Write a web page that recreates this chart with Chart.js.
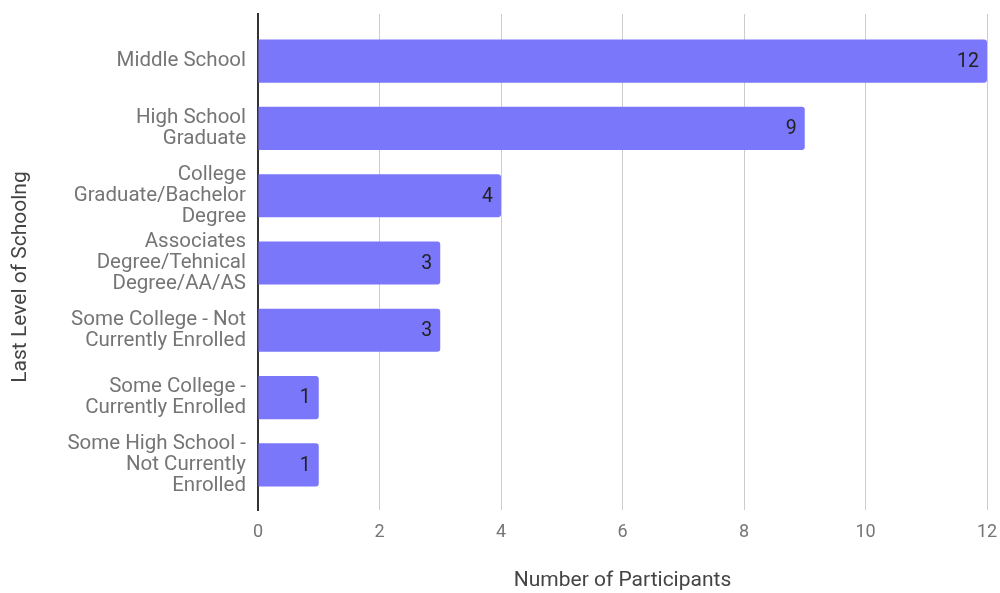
<!DOCTYPE html>
<html>
<head>
<meta charset="utf-8">
<script src="https://cdn.jsdelivr.net/npm/chart.js@4/dist/chart.umd.min.js"></script>
<style>
  html, body { margin: 0; padding: 0; background: #fff; }
  #wrap { width: 1000px; height: 593px; }
</style>
</head>
<body>
<div id="wrap"><canvas id="chart"></canvas></div>
<script>
// categories, one entry per bar, split into the lines shown on the axis
const levels = [
    ['Middle School'],
    ['High School', 'Graduate'],
    ['College', 'Graduate/Bachelor', 'Degree'],
    ['Associates', 'Degree/Tehnical', 'Degree/AA/AS'],
    ['Some College - Not', 'Currently Enrolled'],
    ['Some College -', 'Currently Enrolled'],
    ['Some High School -', 'Not Currently', 'Enrolled']
];
const participants = [12, 9, 4, 3, 3, 1, 1];
const xTicks = [0, 2, 4, 6, 8, 10, 12];

const FONT = 'Roboto';
const Y_TITLE = 'Last Level of Schoolng';

// count written at the end of each bar, plus the vertical axis title
// (centred on the plot and the tick labels below it together)
const barValues = {
    id: 'barValues',
    afterDatasetsDraw(chart) {
        const ctx = chart.ctx;
        const meta = chart.getDatasetMeta(0);
        ctx.save();
        ctx.font = '19.5px ' + FONT;
        ctx.fillStyle = '#222';
        ctx.textAlign = 'right';
        ctx.textBaseline = 'middle';
        meta.data.forEach((bar, i) => {
            ctx.fillText(String(participants[i]), bar.x - 8, bar.y + 1);
        });
        ctx.restore();
    },
    afterDraw(chart) {
        const ctx = chart.ctx;
        const area = chart.chartArea;
        const cy = (area.top + area.bottom + 30) / 2;
        ctx.save();
        ctx.translate(21, cy);
        ctx.rotate(-Math.PI / 2);
        ctx.font = '21px ' + FONT;
        ctx.fillStyle = '#444';
        ctx.textAlign = 'center';
        ctx.textBaseline = 'middle';
        ctx.fillText(Y_TITLE, 0, 0);
        ctx.restore();
    }
};

new Chart(document.getElementById('chart'), {
    type: 'bar',
    data: {
        datasets: [{
            data: participants.map((v, i) => ({ x: v, y: i })),
            backgroundColor: '#7b77fb',
            borderRadius: 3,
            categoryPercentage: 0.8,
            barPercentage: 0.8
        }]
    },
    options: {
        indexAxis: 'y',
        responsive: true,
        maintainAspectRatio: false,
        animation: false,
        layout: { padding: { top: 14, right: 13, left: 0, bottom: 0 } },
        plugins: { legend: { display: false }, tooltip: { enabled: false } },
        scales: {
            x: {
                type: 'linear',
                min: 0,
                max: 12,
                afterBuildTicks: s => { s.ticks = xTicks.map(v => ({ value: v })); },
                afterFit: s => { s.height = 83; s.paddingLeft = 0; s.paddingRight = 0; },
                grid: { color: '#cccccc', lineWidth: 1, drawTicks: false },
                border: { display: false },
                ticks: { color: '#757575', font: { family: FONT, size: 18 }, padding: 12 },
                title: {
                    display: true,
                    text: 'Number of Participants',
                    color: '#444',
                    font: { family: FONT, size: 21 },
                    padding: { top: 0, bottom: 0 }
                }
            },
            y: {
                type: 'linear',
                reverse: true,
                offset: false,
                min: -0.7,
                max: 6.67,
                afterBuildTicks: s => { s.ticks = levels.map((_, i) => ({ value: i })); },
                afterFit: s => { s.width = 258; s.paddingTop = 0; s.paddingBottom = 0; },
                grid: { display: false, drawTicks: false, offset: false },
                border: { display: true, color: '#333', width: 2 },
                ticks: {
                    color: '#757575',
                    font: { family: FONT, size: 20.5, lineHeight: 1.03 },
                    padding: 12,
                    callback: v => levels[v]
                }
            }
        }
    },
    plugins: [barValues]
});
</script>
</body>
</html>
